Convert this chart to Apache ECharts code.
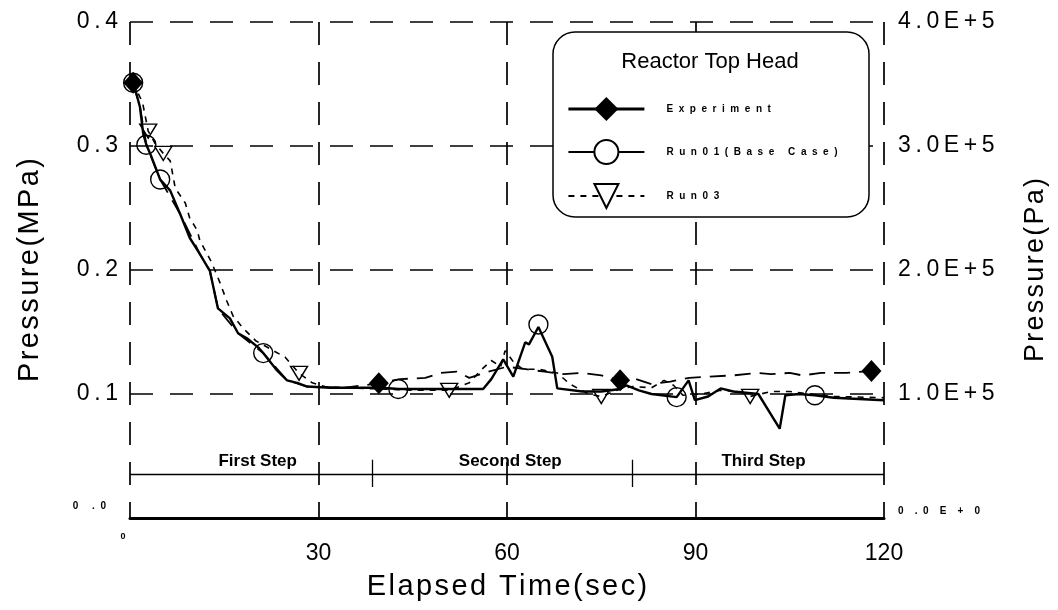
<!DOCTYPE html>
<html><head><meta charset="utf-8">
<script src="https://cdn.jsdelivr.net/npm/echarts@6/dist/echarts.min.js"></script>
<style>html,body{margin:0;padding:0;background:#fff}#c{width:1058px;height:610px}</style>
</head><body><div id="c"></div>
<script>
// ---- data ----
const xTicks = [0, 30, 60, 90, 120];
const seriesNames = ['Experiment', 'Run01(Base Case)', 'Run03'];
const experiment = [[0.5,0.351],[1.6,0.331],[2.6,0.301],[4.8,0.273],[8,0.245],[11.1,0.213],[12.7,0.1995],[14,0.169],[17.2,0.149],[21.2,0.133],[25,0.111],[28.2,0.106],[34,0.105],[39.6,0.1086],[43,0.112],[47,0.113],[49.5,0.117],[52,0.118],[54,0.113],[57,0.118],[60,0.122],[63,0.12],[66,0.118],[69,0.116],[72,0.117],[75,0.115],[78,0.111],[80,0.113],[83,0.108],[86,0.11],[89,0.113],[92,0.114],[96,0.115],[100,0.117],[102,0.116],[105,0.117],[107,0.115],[110,0.117],[114,0.117],[118,0.1185]];
const experimentMarkers = [[0.5,0.351],[39.6,0.1086],[78,0.111],[118,0.1185]];
const run01 = [[0.5,0.352],[1.6,0.331],[2.1,0.31],[2.6,0.301],[3.2,0.294],[4.8,0.273],[6.4,0.264],[8,0.245],[9.5,0.226],[11.1,0.213],[12.4,0.202],[12.7,0.1995],[14,0.169],[15.9,0.161],[17.2,0.149],[18.6,0.145],[20.4,0.1376],[21.2,0.133],[23.4,0.119],[25,0.111],[26.6,0.109],[28.2,0.106],[31.8,0.105],[36,0.105],[40,0.105],[42.7,0.104],[48,0.104],[53,0.104],[56.2,0.104],[57.5,0.112],[59.4,0.128],[61,0.114],[62.9,0.1417],[63.5,0.14],[65,0.154],[67.2,0.13],[68,0.1045],[72,0.102],[75,0.102],[78,0.104],[79,0.107],[81,0.103],[83,0.1],[87,0.0975],[88.9,0.111],[89.9,0.095],[92,0.098],[94,0.1045],[96,0.102],[100,0.1],[103.4,0.072],[104.3,0.099],[106.5,0.1],[109,0.099],[112,0.097],[120,0.095]];
const run01Markers = [[0.5,0.351],[2.6,0.301],[4.8,0.273],[21.2,0.133],[42.7,0.104],[65,0.156],[87,0.0975],[109,0.099]];
const run03 = [[0.5,0.351],[2,0.335],[2.9,0.312],[4,0.302],[5.3,0.294],[6.4,0.288],[7.2,0.266],[8.8,0.254],[9.5,0.242],[10.7,0.232],[11.1,0.224],[13,0.206],[14.3,0.19],[15.4,0.175],[16.4,0.163],[18,0.153],[20,0.143],[22.8,0.135],[24.7,0.1297],[26.9,0.1167],[29,0.109],[31,0.106],[35,0.105],[40,0.104],[45,0.103],[50.8,0.103],[54,0.109],[56,0.12],[57.5,0.127],[59,0.122],[59.7,0.135],[61,0.126],[62.5,0.12],[65,0.12],[68,0.117],[70,0.108],[73,0.1],[75,0.098],[78,0.104],[80,0.106],[83,0.105],[85,0.111],[86.5,0.107],[88,0.099],[91,0.1],[94,0.103],[97,0.102],[98.7,0.098],[102,0.102],[105,0.102],[108,0.1],[112,0.098],[120,0.097]];
const run03Markers = [[2.9,0.312],[5.3,0.294],[26.9,0.1167],[50.8,0.103],[75,0.098],[98.7,0.098]];
const stepNames = ['First Step', 'Second Step', 'Third Step'];
const stepLabelX = [20.4, 60.6, 100.9];
const stepLabelY = 0.045;
const stepDividerX = [38.5, 80];
const stepLevel = 0.035;
const stepTickRange = [0.025, 0.047];

// ---- chart ----
const FONT = 'Liberation Sans';
const chart = echarts.init(document.getElementById('c'), null, {renderer: 'canvas'});
const spaced = s => s.split('').join('  ');
const hair = s => s.split('').join('\u200A');
const thin = s => s.split('').join('\u2009');

const option = {
  backgroundColor: '#fff',
  animation: false,
  grid: {left: 130, right: 174, top: 22, bottom: 92, outerBoundsMode: 'none'},
  xAxis: {
    type: 'value', min: xTicks[0], max: xTicks[xTicks.length - 1], interval: 30,
    name: hair('Elapsed Time(sec)'), nameLocation: 'middle', nameGap: 54,
    nameTextStyle: {fontFamily: FONT, fontSize: 29, color: '#000'},
    axisLine: {show: true, lineStyle: {color: '#000', width: 3}},
    axisTick: {show: false},
    axisLabel: {
      margin: 14, color: '#000',
      formatter: v => v === 0 ? '{z|0}' : '{n|' + v + '}',
      rich: {
        z: {fontSize: 9, fontWeight: 'bold', fontFamily: FONT, padding: [0, 14, 0, 0]},
        n: {fontSize: 23, fontFamily: FONT, padding: [10, 0, 0, 0]}
      }
    },
    splitLine: {show: true, lineStyle: {color: '#000', width: 1.7, type: [23, 17]}}
  },
  yAxis: [{
    type: 'value', min: 0, max: 0.4, interval: 0.1,
    name: hair('Pressure(MPa)'), nameLocation: 'middle', nameGap: 86, nameRotate: 90,
    nameTextStyle: {fontFamily: FONT, fontSize: 29, color: '#000'},
    axisLine: {show: false}, axisTick: {show: false},
    axisLabel: {
      margin: 12, color: '#000',
      formatter: v => v === 0 ? '{z|0     .  0}' : '{n|' + thin(v.toFixed(1)) + '}',
      rich: {
        z: {fontSize: 10, fontWeight: 'bold', fontFamily: FONT, padding: [0, 12, 24, 0]},
        n: {fontSize: 23, fontFamily: FONT}
      }
    },
    splitLine: {show: true, lineStyle: {color: '#000', width: 1.7, type: [23, 17]}}
  }, {
    type: 'value', min: 0, max: 400000, interval: 100000, position: 'right',
    name: hair('Pressure(Pa)'), nameLocation: 'middle', nameGap: 138, nameRotate: 90,
    nameTextStyle: {fontFamily: FONT, fontSize: 27, color: '#000'},
    axisLine: {show: false}, axisTick: {show: false}, splitLine: {show: false},
    axisLabel: {
      margin: 14, color: '#000',
      formatter: v => v === 0 ? '{z|0    .  0    E    +    0}' : '{n|' + thin((v / 100000).toFixed(1) + 'E+5') + '}',
      rich: {
        z: {fontSize: 10, fontWeight: 'bold', fontFamily: FONT, padding: [0, 0, 14, 0]},
        n: {fontSize: 23, fontFamily: FONT}
      }
    }
  }],
  legend: {
    orient: 'vertical', left: 567, top: 97, padding: 0,
    itemWidth: 76, itemHeight: 30, itemGap: 18,
    data: [
      {name: seriesNames[0], lineStyle: {type: 'solid', width: 2.8}},
      {name: seriesNames[1], lineStyle: {type: 'solid', width: 2}},
      {name: seriesNames[2]}
    ],
    formatter: spaced,
    textStyle: {fontSize: 10, fontWeight: 'bold', fontFamily: FONT, color: '#000', padding: [0, 0, 0, 17]},
    z: 20
  },
  graphic: [
    {type: 'rect', z: 10, shape: {x: 553, y: 32, width: 316, height: 185, r: 22},
     style: {fill: '#fff', stroke: '#000', lineWidth: 1.5}},
    {type: 'text', z: 11, x: 710, y: 62,
     style: {text: 'Reactor Top Head', fontSize: 22, fontFamily: FONT, fill: '#000', align: 'center', verticalAlign: 'middle'}}
  ],
  series: [
    {name: seriesNames[0], type: 'line', data: experiment, showSymbol: false, symbol: 'diamond',
     lineStyle: {color: '#000', width: 1.8, type: [16, 9]}, itemStyle: {color: '#000'}, z: 3, silent: true},
    {name: seriesNames[1], type: 'line', data: run01, showSymbol: false, symbol: 'emptyCircle',
     lineStyle: {color: '#000', width: 2.4}, itemStyle: {color: '#000'}, z: 4, silent: true},
    {name: seriesNames[2], type: 'line', data: run03, showSymbol: false, symbol: 'emptyTriangle', symbolRotate: 180,
     lineStyle: {color: '#000', width: 1.6, type: [6, 6]}, itemStyle: {color: '#000'}, z: 3, silent: true},
    {name: seriesNames[0], type: 'scatter', data: experimentMarkers, symbol: 'diamond', symbolSize: [20, 22],
     itemStyle: {color: '#000', opacity: 1}, z: 6, silent: true},
    {name: seriesNames[1], type: 'scatter', data: run01Markers, symbol: 'circle', symbolSize: 19,
     itemStyle: {color: 'rgba(0,0,0,0)', borderColor: '#000', borderWidth: 1.4, opacity: 1}, z: 6, silent: true},
    {name: seriesNames[2], type: 'scatter', data: run03Markers, symbol: 'triangle', symbolRotate: 180, symbolSize: [17, 14],
     itemStyle: {color: 'rgba(0,0,0,0)', borderColor: '#000', borderWidth: 1.4, opacity: 1}, z: 6, silent: true},
    {name: 'steps', type: 'line', silent: true, showSymbol: false, symbol: 'none',
     data: [[xTicks[0], stepLevel], [xTicks[xTicks.length - 1], stepLevel]],
     lineStyle: {color: '#000', width: 1.5}, z: 2,
     markLine: {silent: true, symbol: 'none', label: {show: false},
       lineStyle: {color: '#000', width: 1.3, type: 'solid'},
       data: stepDividerX.map(x => [{coord: [x, stepTickRange[0]]}, {coord: [x, stepTickRange[1]]}])}},
    {name: 'stepLabels', type: 'scatter', silent: true, symbolSize: 1,
     itemStyle: {color: 'rgba(0,0,0,0)'},
     data: stepLabelX.map((x, i) => ({value: [x, stepLabelY], name: stepNames[i]})),
     label: {show: true, position: [0, 0], align: 'center', verticalAlign: 'middle', formatter: p => p.name,
       fontSize: 17, fontWeight: 'bold', fontFamily: FONT, color: '#000', opacity: 1, textBorderWidth: 0}, z: 5}
  ]
};
chart.setOption(option);
</script>
</body></html>
